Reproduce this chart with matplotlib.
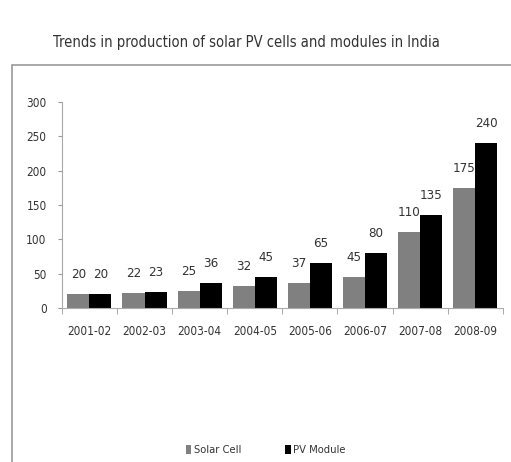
import matplotlib.pyplot as plt
import numpy as np
from matplotlib.patches import Rectangle

years = ['2001-02', '2002-03', '2003-04', '2004-05', '2005-06', '2006-07', '2007-08', '2008-09']
solar_cell = [20, 22, 25, 32, 37, 45, 110, 175]
pv_module = [20, 23, 36, 45, 65, 80, 135, 240]

plt.rcParams['font.family'] = ['DejaVu Sans']
plt.rcParams['font.stretch'] = 'condensed'

fig = plt.figure(figsize=(5.11, 4.62), dpi=100)
ax = fig.add_axes([0.121, 0.3333, 0.863, 0.446])

x = np.arange(len(years))
w = 0.4
b1 = ax.bar(x - w/2, solar_cell, w, color='#808080', label='Solar Cell')
b2 = ax.bar(x + w/2, pv_module, w, color='black', label='PV Module')

# value labels
for rect, v in zip(list(b1) + list(b2), solar_cell + pv_module):
    ax.text(rect.get_x() + rect.get_width()/2, v + 19, str(v), ha='center', va='bottom',
            fontsize=9.5, color='#333333')

ax.set_xlim(-0.5, len(years) - 0.5)
ax.set_ylim(0, 300)
ax.set_yticks(range(0, 301, 50))
ax.set_xticks(x)
ax.set_xticklabels(years)
ax.set_xticks(np.arange(-0.5, len(years), 1), minor=True)
ax.tick_params(axis='x', which='major', length=0, pad=12, labelsize=8.5, colors='#333333')
ax.tick_params(axis='x', which='minor', length=4, color='#999999', direction='out')
ax.tick_params(axis='y', length=3, color='#999999', labelcolor='#333333', labelsize=8.5, pad=8)

for s in ['top', 'right']:
    ax.spines[s].set_visible(False)
ax.spines['left'].set_color('#aaaaaa')
ax.spines['bottom'].set_color('#aaaaaa')

fig.text(0.483, 0.907, 'Trends in production of solar PV cells and modules in India',
         ha='center', va='center', fontsize=10.5, color='#333333')

# outer frame
fig.patches.append(Rectangle((12/511, -0.05), 1.1, 0.05 + (462-65)/462, transform=fig.transFigure,
                             fill=False, edgecolor='#999999', linewidth=1.2))

fig.legend(handles=[b1, b2], labels=['Solar Cell', 'PV Module'], loc='center',
           bbox_to_anchor=(0.52, 0.026), ncol=2, frameon=False, fontsize=8,
           handlelength=0.5, handleheight=0.9, handletextpad=0.2, columnspacing=4,
           labelcolor='#333333')

fig.savefig('out.png', dpi=100)
